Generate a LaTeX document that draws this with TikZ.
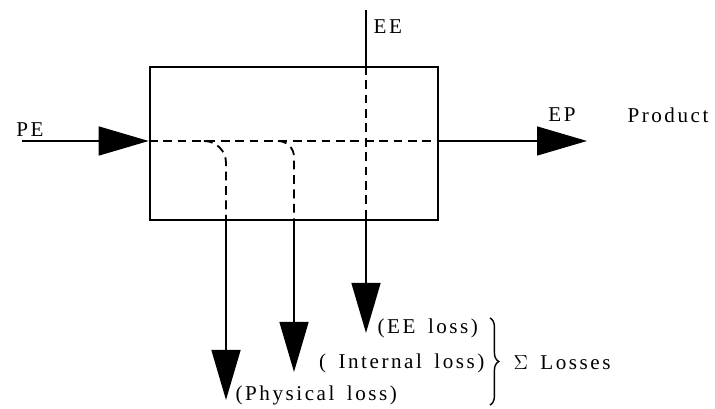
\documentclass[tikz,border=0pt]{standalone}
\usepackage{fontspec}
\setmainfont[LetterSpace=12, WordSpace=1.6]{Liberation Serif}
\usetikzlibrary{arrows.meta,decorations.pathreplacing}

\begin{document}
\begin{tikzpicture}[
  font=\fontsize{15}{17}\selectfont,
  flow/.style={-{Triangle[length=1.25cm, width=0.72cm]}, line width=1.5pt},
  inner/.style={line width=1.3pt, dash pattern=on 0.22cm off 0.14cm},
  wire/.style={line width=1.5pt},
  lbl/.style={inner sep=1pt},
  brc/.style={decorate, decoration={brace, amplitude=0.22cm}, line width=1pt}
]
  \useasboundingbox (0,0) rectangle (17.875,10.225);

  \node[draw, line width=1.8pt, minimum width=7.2cm, minimum height=3.825cm,
        inner sep=0pt] (proc) at (7.35,6.6375) {};

  \coordinate (pe0) at (0.55,6.7);
  \coordinate (in)  at (proc.west |- pe0);
  \coordinate (out) at (proc.east |- pe0);
  \coordinate (ep1) at (14.675,6.7);
  \coordinate (ee0) at (9.15,9.975);
  \coordinate (ee1) at (9.15,1.9);
  \coordinate (ph1) at (5.65,0.225);
  \coordinate (il1) at (7.35,0.925);
  \coordinate (br0) at (12.25,2.275);
  \coordinate (br1) at (12.25,0.1);

  %% main flow PE -> EP
  \draw[flow] (pe0) -- (in);
  \draw[inner] (in) -- (out);
  \draw[flow] (out) -- (ep1);

  %% EE through the box
  \draw[wire] (ee0) -- (ee0 |- proc.north);
  \draw[inner] (ee0 |- proc.north) -- (ee0 |- proc.south);
  \draw[flow] (ee0 |- proc.south) -- (ee1);

  %% physical loss branch
  \draw[inner, rounded corners=0.55cm] (5.1,6.7) -| (ph1 |- proc.south);
  \draw[flow] (ph1 |- proc.south) -- (ph1);

  %% internal loss branch
  \draw[inner, rounded corners=0.4cm] (6.95,6.7) -| (il1 |- proc.south);
  \draw[flow] (il1 |- proc.south) -- (il1);

  \node[lbl] (pel) at (0.75,6.975) {PE};
  \node[lbl, anchor=west] (eel) at (9.3,9.55) {EE};
  \node[lbl] (epl) at (14.05,7.35) {EP};
  \node[lbl] (prl) at (16.7,7.35) {Product};

  \node[lbl, anchor=west] (eeloss) at (9.4,2.025) {(EE loss)};
  \node[lbl, anchor=east] (inloss) at (12.15,1.15) {( Internal loss)};
  \node[lbl, anchor=west] (phloss) at (5.85,0.35) {(Physical loss)};

  \draw[brc] (br0) -- (br1);
  \node[lbl, anchor=west] (sum) at (12.8,1.15) {$\Sigma$ Losses};
\end{tikzpicture}
\end{document}
